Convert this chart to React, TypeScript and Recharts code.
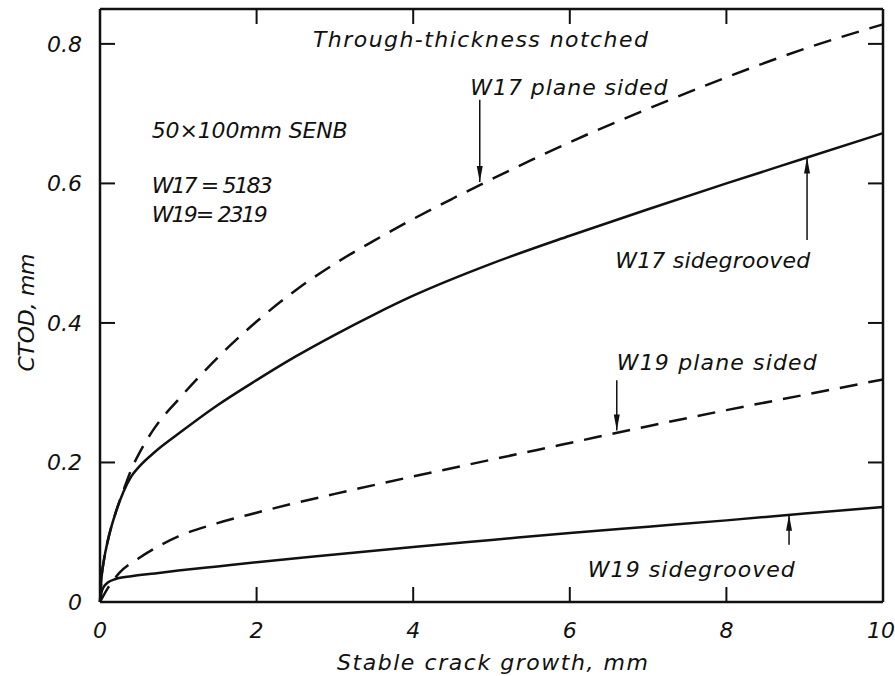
import React from "react";
import {
  Line,
  LineChart,
  ReferenceDot,
  ReferenceLine,
  XAxis,
  YAxis
} from "recharts";

// curves (crack growth mm -> CTOD mm)
const w17PlaneX = [0, 0.02, 0.05, 0.1, 0.2, 0.3, 0.4, 0.5, 0.7, 1.0, 1.5, 2.0, 2.5, 3.0, 3.5, 4.0, 4.5, 5.0, 5.5, 6.0, 7.0, 8.0, 9.0, 10];
const w17PlaneY = [0, 0.035, 0.06, 0.088, 0.128, 0.16, 0.19, 0.213, 0.25, 0.29, 0.35, 0.402, 0.447, 0.485, 0.518, 0.549, 0.578, 0.606, 0.633, 0.659, 0.707, 0.752, 0.793, 0.828];

const w17GroovedX = [0, 0.02, 0.05, 0.1, 0.2, 0.3, 0.4, 0.5, 0.7, 1.0, 1.5, 2.0, 2.5, 3.0, 3.5, 4.0, 5.0, 6.0, 7.0, 8.0, 9.0, 10];
const w17GroovedY = [0, 0.035, 0.06, 0.088, 0.128, 0.158, 0.18, 0.194, 0.215, 0.241, 0.282, 0.318, 0.352, 0.383, 0.412, 0.439, 0.485, 0.525, 0.563, 0.6, 0.636, 0.672];

const w19PlaneX = [0, 0.1, 0.25, 0.5, 0.75, 1.0, 1.5, 2.0, 2.5, 3.0, 4.0, 5.0, 6.0, 7.0, 8.0, 9.0, 10];
const w19PlaneY = [0, 0.02, 0.042, 0.063, 0.08, 0.094, 0.113, 0.128, 0.142, 0.155, 0.18, 0.204, 0.228, 0.252, 0.275, 0.297, 0.319];

const w19GroovedX = [0, 0.02, 0.05, 0.1, 0.2, 0.4, 0.7, 1.0, 1.5, 2.0, 3.0, 4.0, 5.0, 6.0, 7.0, 8.0, 9.0, 10];
const w19GroovedY = [0, 0.014, 0.022, 0.028, 0.033, 0.037, 0.041, 0.045, 0.051, 0.057, 0.068, 0.079, 0.089, 0.099, 0.108, 0.117, 0.127, 0.136];

const xTicks = [0, 2, 4, 6, 8, 10];
const yTicks = [0, 0.2, 0.4, 0.6, 0.8];
const xMax = 10;
const yMax = 0.85;

// annotation text: [x, y (baseline), text, width px]
const notes: [number, number, string, number][] = [
  [2.72, 0.796, "Through-thickness notched", 335],
  [4.73, 0.727, "W17 plane sided", 197],
  [0.66, 0.665, "50×100mm SENB", 196],
  [0.66, 0.586, "W17 = 5183", 121],
  [0.66, 0.545, "W19= 2319", 116],
  [6.58, 0.479, "W17 sidegrooved", 195],
  [6.6, 0.333, "W19 plane sided", 200],
  [6.23, 0.036, "W19 sidegrooved", 207]
];

// arrows: x, tail y, tip y
const arrows: [number, number, number][] = [
  [4.85, 0.72, 0.602],
  [9.03, 0.519, 0.637],
  [6.6, 0.318, 0.246],
  [8.8, 0.082, 0.125]
];

const zip = (xs: number[], ys: number[]) => xs.map((x, i) => ({ x, y: ys[i] }));

const FONT = "'DejaVu Sans', sans-serif";
const INK = "#111";
const TICK_LEN = 15;

// layout (chart pinned to the page corner, so no scrollbars)
const W = 895;
const H = 676;
const TOP = 9;
const LEFT = 8;
const LEFT_W = 92;
const RIGHT_W = 12;
const BOTTOM_H = 74;
const PLOT_W = W - LEFT - LEFT_W - RIGHT_W;
const PLOT_H = H - TOP - BOTTOM_H;
const X_GAP = 28;
const Y_GAP = 18;

const textStyle = {
  fontFamily: FONT,
  fontStyle: "italic" as const,
  fontSize: 22,
  fill: INK
};

const BottomTick = (p: any) => {
  const v = p.payload.value;
  const axisY = p.y - X_GAP;
  const inner = v > 0 && v < xMax;
  return (
    <g>
      {inner && <line x1={p.x} x2={p.x} y1={axisY} y2={axisY - TICK_LEN} stroke={INK} strokeWidth={2} />}
      {inner && <line x1={p.x} x2={p.x} y1={axisY - PLOT_H} y2={axisY - PLOT_H + TICK_LEN} stroke={INK} strokeWidth={2} />}
      <text x={v === xMax ? p.x - 2 : p.x} y={p.y} dy="0.35em" textAnchor="middle" {...textStyle}>
        {v}
      </text>
    </g>
  );
};

const LeftTick = (p: any) => {
  const v = p.payload.value;
  const axisX = p.x + Y_GAP;
  const inner = v > 0;
  return (
    <g>
      {inner && <line x1={axisX} x2={axisX + TICK_LEN} y1={p.y} y2={p.y} stroke={INK} strokeWidth={2} />}
      {inner && <line x1={axisX + PLOT_W} x2={axisX + PLOT_W - TICK_LEN} y1={p.y} y2={p.y} stroke={INK} strokeWidth={2} />}
      <text x={p.x} y={p.y} dy="0.35em" textAnchor="end" {...textStyle}>
        {v}
      </text>
    </g>
  );
};

const Arrow = (p: any) => {
  const { x1, y1, x2, y2 } = p;
  const dir = y2 < y1 ? 1 : -1; // 1 = pointing up
  return (
    <g>
      <line x1={x1} y1={y1} x2={x2} y2={y2} stroke={INK} strokeWidth={1.5} />
      <polygon
        points={`${x2},${y2} ${x2 - 3},${y2 + dir * 16} ${x2 + 3},${y2 + dir * 16}`}
        fill={INK}
      />
    </g>
  );
};

const axisLine = { stroke: INK, strokeWidth: 2.5 };

export default function App() {
  return (
    <div style={{ position: "absolute", left: 0, top: 0, width: W, height: H, background: "#fff" }}>
      <LineChart
        width={W}
        height={H}
        margin={{ top: TOP, right: RIGHT_W, bottom: 0, left: LEFT }}
      >
        <XAxis
          type="number"
          dataKey="x"
          domain={[0, xMax]}
          ticks={xTicks}
          height={BOTTOM_H}
          tickSize={0}
          tickMargin={X_GAP}
          tickLine={false}
          axisLine={axisLine}
          tick={<BottomTick />}
          label={{
            content: (props: any) => {
              const vb = props.viewBox;
              return (
                <text x={vb.x + vb.width / 2 + 1} y={vb.y + 68} textAnchor="middle" {...textStyle} textLength={311} lengthAdjust="spacing">
                  Stable crack growth, mm
                </text>
              );
            }
          }}
        />
        <YAxis
          type="number"
          domain={[0, yMax]}
          ticks={yTicks}
          width={LEFT_W}
          tickSize={0}
          tickMargin={Y_GAP}
          tickLine={false}
          axisLine={axisLine}
          tick={<LeftTick />}
          label={{
            content: (props: any) => {
              const vb = props.viewBox;
              const cx = vb.x + 18;
              const cy = vb.y + vb.height / 2 + 7;
              return (
                <text x={cx} y={cy} dy="0.35em" textAnchor="middle" transform={`rotate(-90 ${cx} ${cy})`} {...textStyle} textLength={118} lengthAdjust="spacing">
                  CTOD, mm
                </text>
              );
            }
          }}
        />

        {/* frame: top and right edges */}
        <ReferenceLine y={yMax} stroke={INK} strokeWidth={2.5} ifOverflow="visible" />
        <ReferenceLine x={xMax} stroke={INK} strokeWidth={2.5} ifOverflow="visible" />

        <Line data={zip(w17PlaneX, w17PlaneY)} dataKey="y" type="monotone" stroke={INK} strokeWidth={2.5} strokeDasharray="18 11" dot={false} isAnimationActive={false} />
        <Line data={zip(w17GroovedX, w17GroovedY)} dataKey="y" type="monotone" stroke={INK} strokeWidth={2.5} dot={false} isAnimationActive={false} />
        <Line data={zip(w19PlaneX, w19PlaneY)} dataKey="y" type="monotone" stroke={INK} strokeWidth={2.5} strokeDasharray="18 11" dot={false} isAnimationActive={false} />
        <Line data={zip(w19GroovedX, w19GroovedY)} dataKey="y" type="monotone" stroke={INK} strokeWidth={2.5} dot={false} isAnimationActive={false} />

        {arrows.map(([x, from, to], i) => (
          <ReferenceLine
            key={"a" + i}
            segment={[{ x, y: from }, { x, y: to }]}
            shape={<Arrow />}
            ifOverflow="visible"
          />
        ))}

        {notes.map(([x, y, txt, w], i) => (
          <ReferenceDot
            key={"n" + i}
            x={x}
            y={y}
            r={0}
            ifOverflow="visible"
            shape={(p: any) => (
              <text x={p.cx} y={p.cy} {...textStyle} textLength={w} lengthAdjust="spacing">
                {txt}
              </text>
            )}
          />
        ))}
      </LineChart>
    </div>
  );
}
